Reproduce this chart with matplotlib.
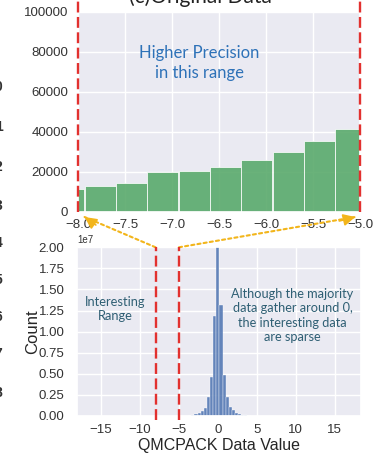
import matplotlib
matplotlib.use("Agg")
import matplotlib.pyplot as plt
import seaborn as sns

sns.set_theme(style="darkgrid")
plt.rcParams['font.family'] = ['Liberation Sans', 'DejaVu Sans']

# ---- data ----
# top panel: zoomed histogram of the interesting range [-8, -5]
top_bin_left = [-8.27, -7.93, -7.60, -7.27, -6.93, -6.60, -6.27, -5.93, -5.60, -5.27]
top_bin_width = 0.333
top_counts = [11300, 13200, 14700, 19800, 20500, 22300, 26000, 29800, 35700, 41700]
top_yticks = [0, 20000, 40000, 60000, 80000, 100000]
top_xticks = [-8.0, -7.5, -7.0, -6.5, -6.0, -5.5, -5.0]

# bottom panel: full distribution (counts in units of 1e7)
bot_bin_centers = [-3.6, -3.2, -2.8, -2.4, -2.0, -1.6, -1.2, -0.8, -0.4, 0.0,
                   0.4, 0.8, 1.2, 1.6, 2.0, 2.4, 2.8, 3.2, 3.6, 4.0]
bot_bin_width = 0.4
bot_counts_e7 = [0.005, 0.01, 0.02, 0.035, 0.06, 0.10, 0.23, 0.46, 1.18, 2.6,
                 1.32, 0.49, 0.23, 0.11, 0.07, 0.04, 0.025, 0.015, 0.01, 0.005]
bot_xticks = [-15, -10, -5, 0, 5, 10, 15]
bot_yticks_e7 = [0.0, 0.25, 0.5, 0.75, 1.0, 1.25, 1.5, 1.75, 2.0]
range_lo, range_hi = -8.0, -5.0
neighbor_labels = ['0', '1', '2', '3', '4', '5', '6', '7', '8']
neighbor_y_px = [87, 127, 167, 206, 243, 280, 317, 354, 393]

W, H = 376, 455
fig = plt.figure(figsize=(W / 100, H / 100), dpi=100)

ax_top = fig.add_axes([78 / W, 1 - 212 / H, (360 - 78) / W, 200 / H])
ax_bot = fig.add_axes([77 / W, 1 - 416 / H, (361 - 77) / W, (416 - 247.3) / H])

tick_color = '#333333'
red = '#e2312f'
gold = '#f2b51b'
dash = (0, (4.6, 1.9))

# ---- top panel ----
ax_top.bar(top_bin_left, top_counts, width=top_bin_width, align='edge',
           color='#55A868', alpha=0.88, edgecolor='white', linewidth=0.6)
ax_top.set_xlim(range_lo, range_hi)
ax_top.set_ylim(0, 100000)
ax_top.set_yticks(top_yticks)
ax_top.set_xticks(top_xticks)
ax_top.set_xticklabels([f"{v:.1f}".replace('-', '\u2212') for v in top_xticks])
ax_top.tick_params(axis='both', labelsize=9.5, colors=tick_color, length=0)
ax_top.tick_params(axis='y', pad=7)
ax_top.tick_params(axis='x', pad=5)
for x in (range_lo, range_hi):
    ax_top.axvline(x, ymin=0, ymax=1.07, color=red, lw=1.7, ls=dash,
                   clip_on=False, zorder=5)
ax_top.text(-6.71, 74500, 'Higher Precision\nin this range', ha='center',
            va='center', fontsize=12, color='#2e72b8', family='Lato',
            linespacing=1.3)

# ---- bottom panel ----
ax_bot.bar(bot_bin_centers, [c * 1e7 for c in bot_counts_e7], width=bot_bin_width,
           color='#4C72B0', alpha=0.85, edgecolor='white', linewidth=0.3)
ax_bot.set_xlim(-18.1, 18.4)
ax_bot.set_ylim(0, 2e7)
ax_bot.set_xticks(bot_xticks)
ax_bot.set_yticks([v * 1e7 for v in bot_yticks_e7])
ax_bot.tick_params(axis='both', labelsize=9.5, colors=tick_color, length=0)
ax_bot.tick_params(axis='y', pad=9)
ax_bot.tick_params(axis='x', pad=6)
ax_bot.yaxis.get_offset_text().set_fontsize(7)
ax_bot.yaxis.get_offset_text().set_color(tick_color)
ax_bot.set_ylabel('Count', fontsize=12, color='#262626', labelpad=-1)
ax_bot.set_xlabel('QMCPACK Data Value', fontsize=11.5, color='#262626', labelpad=1)
for x in (range_lo, range_hi):
    ax_bot.axvline(x, ymin=-0.025, ymax=1.0, color=red, lw=1.7, ls=dash,
                   clip_on=False, zorder=5)
ax_bot.text(-13.2, 1.27e7, 'Interesting\nRange', ha='center', va='center',
            fontsize=9.3, color='#2f5f74', family='Lato', linespacing=1.25)
ax_bot.text(9.6, 1.19e7, 'Although the majority\ndata gather around 0,\nthe interesting data\nare sparse',
            ha='center', va='center', fontsize=9.2, color='#2f5f74', family='Lato',
            linespacing=1.25)

# ---- connecting arrows ----
for xb, xt in ((range_lo, -7.93), (range_hi, -5.05)):
    ax_bot.annotate('', xy=(xt, -2500), xycoords=ax_top.transData,
                    xytext=(xb, 2e7), textcoords=ax_bot.transData,
                    arrowprops=dict(arrowstyle='-', ls=(0, (1.5, 1.5)), color=gold,
                                    lw=1.5, shrinkA=0, shrinkB=0),
                    annotation_clip=False)
    ax_bot.annotate('', xy=(xt, -2500), xycoords=ax_top.transData,
                    xytext=(xt + (0.12 if xb < -6 else -0.17), -2500 - (4000 if xb < -6 else 2000)),
                    textcoords=ax_top.transData,
                    arrowprops=dict(arrowstyle='-|>,head_length=0.6,head_width=0.3',
                                    color=gold, lw=1.2, shrinkA=0, shrinkB=0),
                    annotation_clip=False)

# ---- cropped title and neighbour labels ----
fig.text(200 / W, 1 - 3 / H, '(c)Original Data', ha='center', va='baseline',
         fontsize=15, family='Lato', color='#222222')
for lab, yp in zip(neighbor_labels, neighbor_y_px):
    fig.text(-1.5 / W, 1 - yp / H, lab, ha='center', va='center', fontsize=10,
             color='#333333', fontweight='bold')

fig.savefig('out.png', dpi=100)
